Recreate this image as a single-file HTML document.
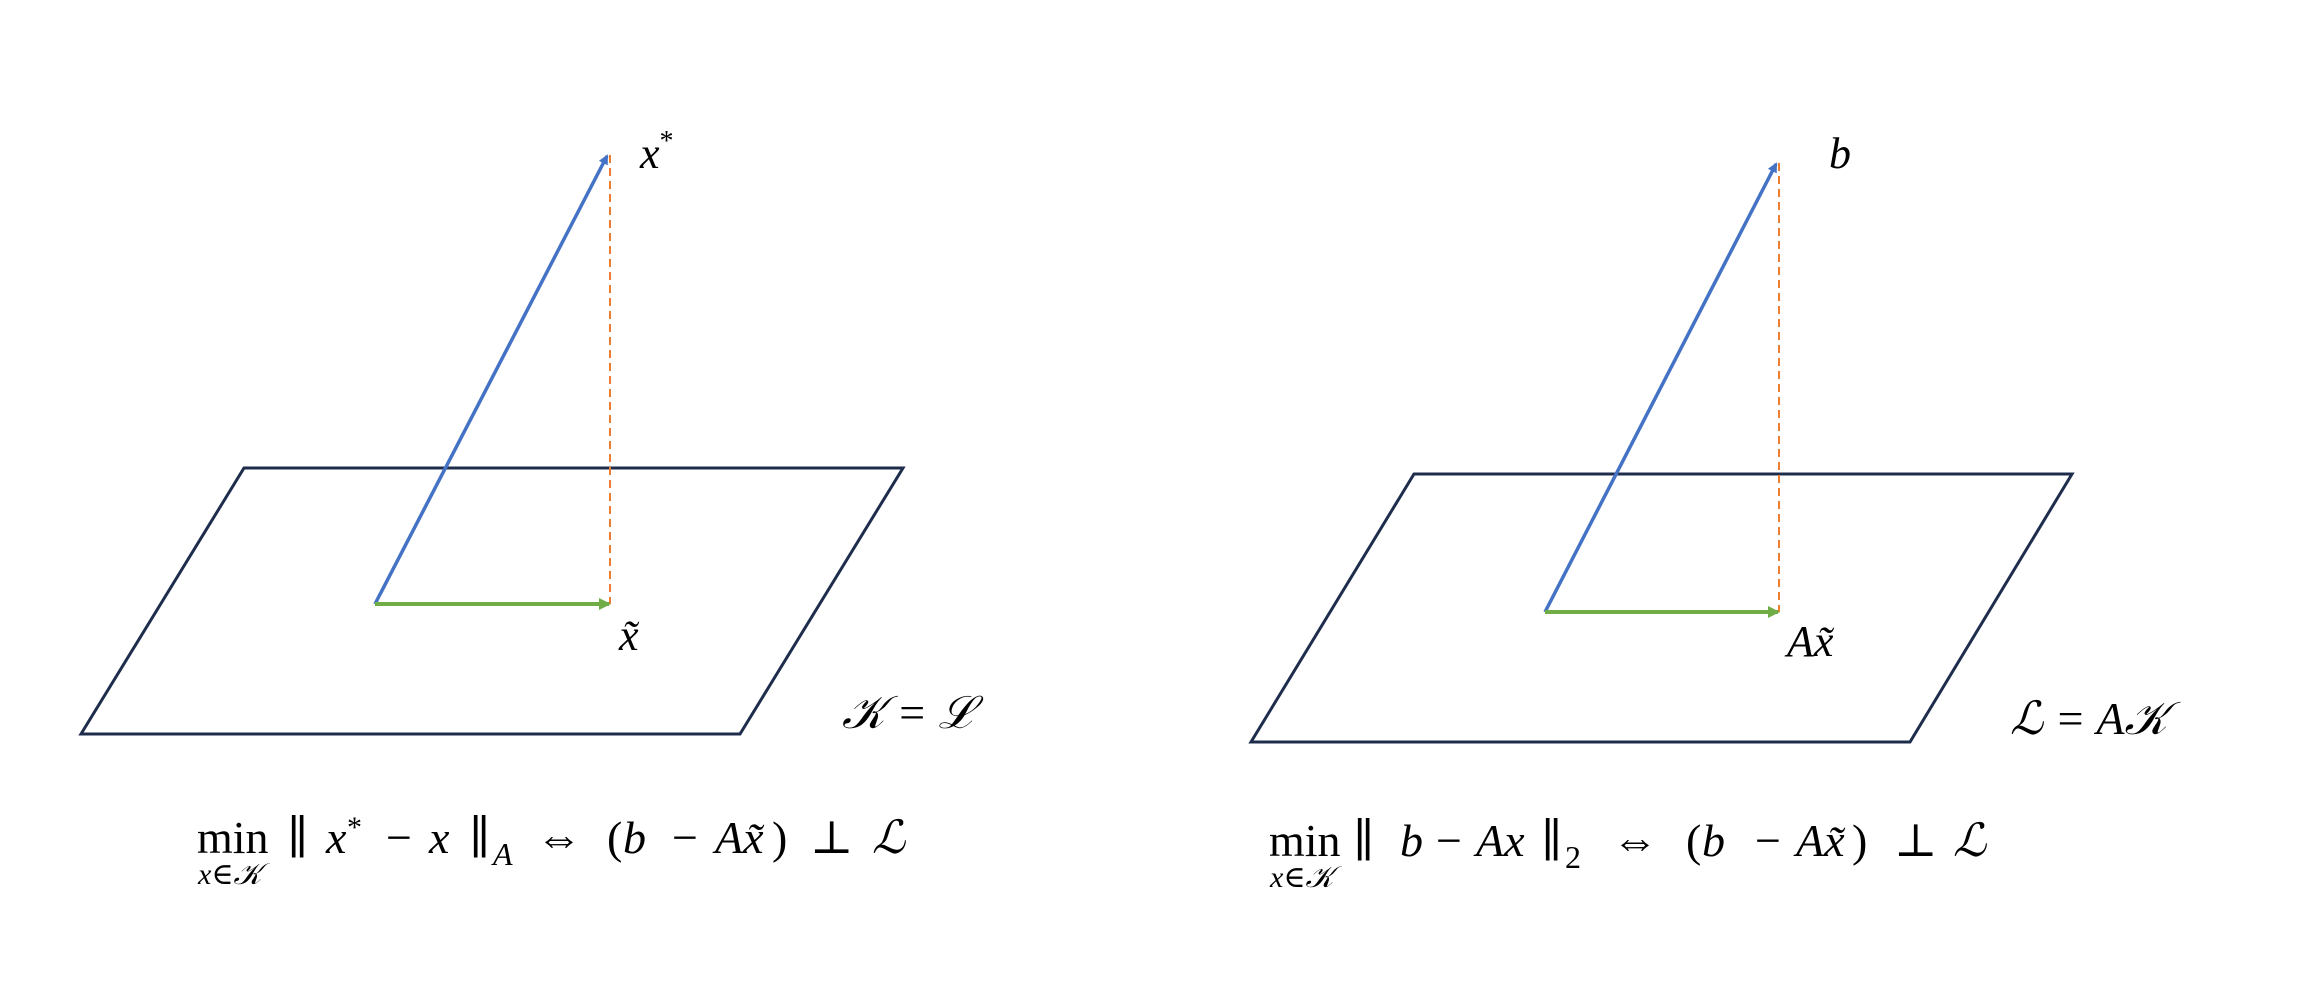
<!DOCTYPE html>
<html><head><meta charset="utf-8"><style>
html,body{margin:0;padding:0;background:#fff;}
svg{display:block;}
text{font-family:"Liberation Serif","DejaVu Serif",serif;fill:#000;}
.it{font-style:italic;}
</style></head><body>
<svg width="2322" height="988" viewBox="0 0 2322 988">
<defs>
<marker id="ab" markerWidth="10" markerHeight="10" refX="8" refY="5" orient="auto" markerUnits="userSpaceOnUse"><path d="M0,0 L10,5 L0,10 z" fill="#4472c4"/></marker>
<marker id="ag" markerWidth="12" markerHeight="12" refX="10" refY="6" orient="auto" markerUnits="userSpaceOnUse"><path d="M0,0 L12,6 L0,12 z" fill="#70ad47"/></marker>
</defs>
<g>
<polygon points="244,468 903,468 740,734 81,734" fill="none" stroke="#1f2d4d" stroke-width="3"/>
<line x1="610" y1="155" x2="610" y2="604" stroke="#ed7d31" stroke-width="2" stroke-dasharray="8,5"/>
<line x1="375" y1="604" x2="607" y2="156" stroke="#4472c4" stroke-width="3.5" marker-end="url(#ab)"/>
<line x1="375" y1="604" x2="609" y2="604" stroke="#70ad47" stroke-width="4" marker-end="url(#ag)"/>
<text class="it" x="640" y="168" font-size="44">x<tspan font-size="28" dy="-18" font-style="normal">*</tspan></text>
<text class="it" x="619" y="650" font-size="44">x̃</text>
<text class="it" x="842" y="728" font-size="46">𝒦 = ℒ</text>
<g font-size="46">
<text x="197" y="853">min</text>
<text x="287" y="853">∥</text>
<text class="it" x="326" y="853">x</text>
<text x="347" y="837" font-size="30">*</text>
<text x="386" y="853">−</text>
<text class="it" x="429" y="853">x</text>
<text x="469" y="853">∥</text>
<text class="it" x="493" y="865" font-size="32">A</text>
<text x="536" y="853">⇔</text>
<text x="607" y="853">(</text>
<text class="it" x="623" y="853">b</text>
<text x="672" y="853">−</text>
<text class="it" x="715" y="853">Ax̃</text>
<text x="772" y="853">)</text>
<text x="810" y="853">⊥</text>
<text class="it" x="872" y="853">ℒ</text>
<text class="it" x="198" y="884" font-size="30">x∈𝒦</text>
</g>
</g>
<g>
<polygon points="1414,474 2072,474 1910,742 1251,742" fill="none" stroke="#1f2d4d" stroke-width="3"/>
<line x1="1779" y1="163" x2="1779" y2="612" stroke="#ed7d31" stroke-width="2" stroke-dasharray="8,5"/>
<line x1="1545" y1="612" x2="1776" y2="164" stroke="#4472c4" stroke-width="3.5" marker-end="url(#ab)"/>
<line x1="1545" y1="612" x2="1778" y2="612" stroke="#70ad47" stroke-width="4" marker-end="url(#ag)"/>
<text class="it" x="1829" y="168" font-size="44">b</text>
<text class="it" x="1787" y="656" font-size="44">Ax̃</text>
<text class="it" x="2010" y="734" font-size="46">ℒ = A𝒦</text>
<g font-size="46">
<text x="1269" y="856">min</text>
<text x="1353" y="856">∥</text>
<text class="it" x="1400" y="856">b</text>
<text x="1436" y="856">−</text>
<text class="it" x="1476" y="856">Ax</text>
<text x="1541" y="856">∥</text>
<text x="1565" y="868" font-size="32">2</text>
<text x="1612" y="856">⇔</text>
<text x="1686" y="856">(</text>
<text class="it" x="1702" y="856">b</text>
<text x="1755" y="856">−</text>
<text class="it" x="1796" y="856">Ax̃</text>
<text x="1852" y="856">)</text>
<text x="1894" y="856">⊥</text>
<text class="it" x="1953" y="856">ℒ</text>
<text class="it" x="1270" y="887" font-size="30">x∈𝒦</text>
</g>
</g>
</svg>
</body></html>
